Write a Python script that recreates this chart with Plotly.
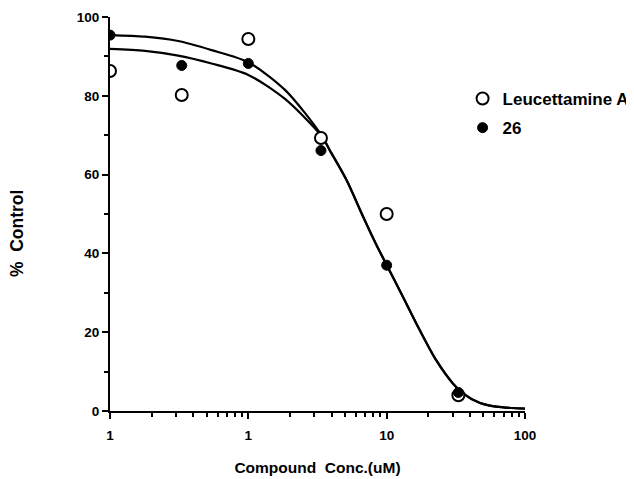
import plotly.graph_objects as go

# Measured data points
conc = [0.1, 0.33, 1.0, 3.35, 10.0, 33.0]
leucettamine_a = [86.3, 80.2, 94.4, 69.3, 50.0, 4.0]
cmpd_26 = [95.4, 87.7, 88.2, 66.1, 37.0, 4.7]

# Fitted curves
fit_x = [0.1, 0.179, 0.311, 0.542, 1.0, 1.84, 3.38, 3.87, 5.12, 6.75, 8.43, 10.0,
         13.1, 17.3, 22.8, 30.1, 35.6, 46.9, 61.9, 100.0]
fit_y_26 = [95.4, 95.0, 93.9, 91.6, 88.5, 81.5, 70.0, 66.2, 58.6, 49.3, 42.1, 37.0,
            29.0, 20.6, 12.9, 7.0, 4.5, 2.1, 1.1, 0.6]
fit_y_la = [91.9, 91.4, 90.2, 88.2, 85.3, 79.2, 69.8, 66.3, 58.7, 49.4, 42.2, 37.1,
            29.0, 20.6, 12.9, 7.0, 4.5, 2.1, 1.1, 0.6]

xtick_vals = [0.1, 1, 10, 100]
xtick_text = ["1", "1", "10", "100"]
ytick_vals = [0, 20, 40, 60, 80, 100]

FONT = "Liberation Sans"
OFF = 8  # page body margin offset
W, H = 634, 479
L, T = 110 - OFF, 17 - OFF
PW, PH = 415.5, 394
R = W - L - PW
B = H - T - PH

fig = go.Figure()
fig.add_trace(go.Scatter(x=fit_x, y=fit_y_la, mode="lines",
                         line=dict(color="black", width=2.2, shape="spline", smoothing=0.8),
                         showlegend=False, hoverinfo="skip"))
fig.add_trace(go.Scatter(x=fit_x, y=fit_y_26, mode="lines",
                         line=dict(color="black", width=2.2, shape="spline", smoothing=0.8),
                         showlegend=False, hoverinfo="skip"))
fig.add_trace(go.Scatter(x=conc, y=leucettamine_a, mode="markers", name="Leucettamine A", legendgroup="a",
                         marker=dict(symbol="circle", size=12, color="white", line=dict(color="black", width=2))))
fig.add_trace(go.Scatter(x=conc, y=cmpd_26, mode="markers", name="26", legendgroup="b",
                         marker=dict(symbol="circle", size=10, color="black", line=dict(color="black", width=1))))

fig.update_layout(
    width=W, height=H,
    margin=dict(l=L, r=R, t=T, b=B, autoexpand=False),
    paper_bgcolor="white", plot_bgcolor="white",
    font=dict(family=FONT, size=13, color="black", weight="bold"),
    legend=dict(x=(463 - 110) / PW, y=(411 - 81) / PH, xanchor="left", yanchor="top",
                xref="paper", yref="paper",
                font=dict(family=FONT, size=17, color="black", weight="bold"),
                tracegroupgap=4, bgcolor="rgba(0,0,0,0)", itemwidth=30),
    xaxis=dict(type="log", range=[-1, 2], tickvals=xtick_vals, ticktext=xtick_text, automargin=False,
               showline=True, linecolor="black", linewidth=2, ticks="outside", ticklen=6, tickwidth=2,
               tickcolor="black", showgrid=False, zeroline=False, ticklabelstandoff=5,
               tickfont=dict(size=13.5, weight="bold"),
               minor=dict(ticks="outside", ticklen=4, tickwidth=1.5, tickcolor="black",
                          tickvals=[0.2, 0.3, 0.4, 0.5, 0.6, 0.7, 0.8, 0.9, 2, 3, 4, 5, 6, 7, 8, 9,
                                    20, 30, 40, 50, 60, 70, 80, 90], showgrid=False),
               title=dict(text="Compound  Conc.(uM)", font=dict(size=15.5, weight="bold"), standoff=20)),
    yaxis=dict(range=[0, 100], tickvals=ytick_vals, automargin=False,
               showline=True, linecolor="black", linewidth=2, ticks="outside", ticklen=6, tickwidth=2,
               tickcolor="black", showgrid=False, zeroline=False, ticklabelstandoff=0,
               tickfont=dict(size=13.5, weight="bold"),
               minor=dict(ticks="outside", ticklen=4, tickwidth=1.5, tickcolor="black",
                          tickvals=[10, 30, 50, 70, 90], showgrid=False)),
    annotations=[dict(text="%  Control", x=(17 - 110) / PW, y=(411 - 233) / PH, xref="paper", yref="paper",
                      xanchor="center", yanchor="middle", showarrow=False, textangle=-90,
                      font=dict(family=FONT, size=17.5, weight="bold"))],
)

fig.write_html("out.html")
